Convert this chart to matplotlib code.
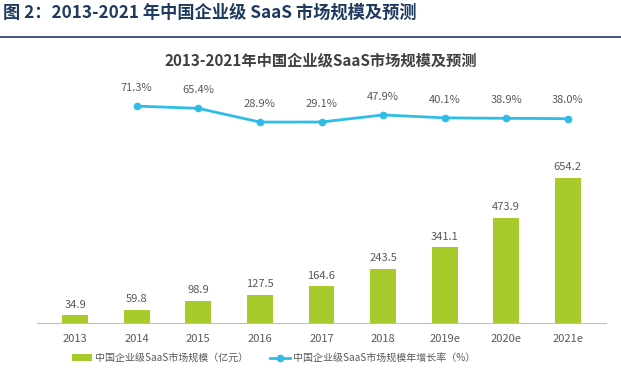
import numpy as np
import matplotlib.pyplot as plt
from matplotlib.lines import Line2D

plt.rcParams['font.family'] = ['Noto Sans CJK SC', 'DejaVu Sans']

years = ["2013", "2014", "2015", "2016", "2017", "2018", "2019e", "2020e", "2021e"]
market_size = [34.9, 59.8, 98.9, 127.5, 164.6, 243.5, 341.1, 473.9, 654.2]
growth_years = ["2014", "2015", "2016", "2017", "2018", "2019e", "2020e", "2021e"]
growth_rate = [71.3, 65.4, 28.9, 29.1, 47.9, 40.1, 38.9, 38.0]

bar_color = '#A8CB2C'
line_color = '#2FBDE8'
text_gray = '#595959'


def main():
    W, H = 621, 378
    fig = plt.figure(figsize=(W / 100, H / 100), dpi=100)

    # report header
    fig.text(3 / W, 1 - 13 / H, "图 2：2013-2021 年中国企业级 SaaS 市场规模及预测",
             fontsize=12.4, fontweight='bold', color='#1F3A5F', va='center', ha='left')
    fig.add_artist(Line2D([0, 1], [1 - 37 / H, 1 - 37 / H], color='#1F3A5F', linewidth=1.2))

    fig.text(321 / W, 1 - 60 / H, "2013-2021年中国企业级SaaS市场规模及预测",
             fontsize=11, fontweight='bold', color='#404040', va='center', ha='center')

    # axes: x from 37 to 606 px, y from 323 (baseline) up to 100
    left, right, bottom, top = 37, 606, 323, 100
    ax = fig.add_axes([left / W, 1 - bottom / H, (right - left) / W, (bottom - top) / H])
    pos = np.arange(len(years))
    ax.bar(pos, market_size, width=0.42, color=bar_color, label="中国企业级SaaS市场规模（亿元）")
    ax.set_xlim(-0.62, len(years) - 1 + 0.62)
    ax.set_ylim(0, 1004)
    for x, y in zip(pos, market_size):
        ax.text(x, y + 25, f"{y:.1f}", ha='center', va='bottom', fontsize=8, color=text_gray)

    for s in ['left', 'right', 'top']:
        ax.spines[s].set_visible(False)
    ax.spines['bottom'].set_color('#BFBFBF')
    ax.set_yticks([])
    ax.set_xticks(pos)
    ax.set_xticklabels(years, fontsize=8, color=text_gray)
    ax.tick_params(axis='x', length=0, pad=8)

    ax2 = ax.twinx()
    gpos = [years.index(y) for y in growth_years]
    ax2.plot(gpos, growth_rate, '-o', color=line_color, linewidth=2, markersize=4.5,
             label="中国企业级SaaS市场规模年增长率（%）")
    ax2.set_ylim(-504, 87.5)
    ax2.set_yticks([])
    for s in ax2.spines.values():
        s.set_visible(False)
    for x, y in zip(gpos, growth_rate):
        ax2.text(x, y + 35, f"{y:.1f}%", ha='center', va='bottom', fontsize=8, color=text_gray)

    h1, l1 = ax.get_legend_handles_labels()
    h2, l2 = ax2.get_legend_handles_labels()
    fig.legend(h1 + h2, l1 + l2, loc='center', bbox_to_anchor=(274 / W, 1 - 358 / H),
               ncol=2, frameon=False, fontsize=7.2, labelcolor=text_gray,
               handlelength=2.0, handletextpad=0.3, columnspacing=2.2)

    plt.savefig("out.png", dpi=100)


if __name__ == '__main__':
    main()
